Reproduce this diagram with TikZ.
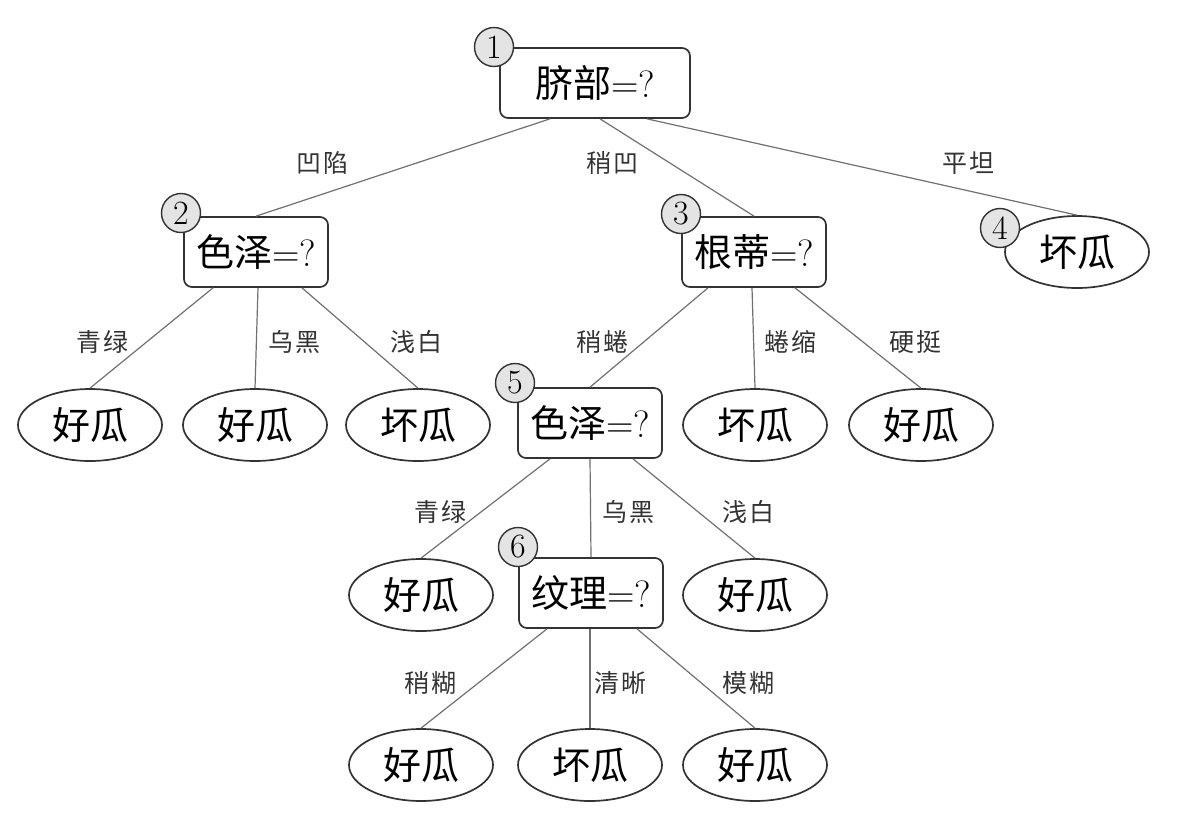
\documentclass[tikz,border=0pt]{standalone}
\usepackage{fontspec}
\newfontfamily\cjk{Noto Sans CJK SC}
\newfontfamily\cjklab[LetterSpace=8]{Noto Sans CJK SC}
\usetikzlibrary{positioning, calc, shapes.geometric}
\definecolor{tline}{HTML}{707070}
\definecolor{tink}{HTML}{333333}
\definecolor{tbadge}{HTML}{E4E4E4}

\begin{document}
\begin{tikzpicture}[x=0.5pt, y=-0.5pt,
  test/.style={draw=tink, line width=0.85pt, rounded corners=4pt, inner sep=0pt,
    minimum width=72pt, minimum height=35pt, font=\fontsize{19pt}{21pt}\selectfont},
  leaf/.style={draw=tink, line width=0.85pt, ellipse, inner sep=0pt,
    minimum width=72pt, minimum height=36pt, font=\fontsize{19pt}{21pt}\cjk},
  badge/.style={draw=tink, line width=0.7pt, fill=tbadge, circle, inner sep=0pt,
    minimum size=19.5pt, font=\fontsize{17pt}{18pt}\selectfont},
  branch/.style={draw=tline, line width=0.6pt},
  elab/.style={font=\fontsize{12.5pt}{14pt}\cjklab, text=tink, inner sep=1pt}]

  \useasboundingbox (0,0) rectangle (1183,825);

  %% Test nodes
  \node[test, minimum width=95pt] (n1) at (595,83) {{\cjk 脐部}=?};
  \node[test] (n2) at (256,252) {{\cjk 色泽}=?};
  \node[test] (n3) at (754,252) {{\cjk 根蒂}=?};
  \node[test] (n5) at (590,423) {{\cjk 色泽}=?};
  \node[test] (n6) at (591,593) {{\cjk 纹理}=?};

  %% Leaves
  \foreach \name/\x/\y/\txt in {n4/1077/252/坏瓜,
      l21/90/425/好瓜, l22/255/425/好瓜, l23/418/425/坏瓜,
      l32/755/425/坏瓜, l33/921/425/好瓜,
      l51/421/595/好瓜, l53/755/595/好瓜,
      l61/421/765/好瓜, l62/590/765/坏瓜, l63/755/765/好瓜}{
    \node[leaf] (\name) at (\x,\y) {\txt};
  }

  %% Branches
  \foreach \from/\dx/\to in {n1/-45/n2, n1/5/n3, n1/52/n4,
      n2/-43/l21, n2/2/l22, n2/46/l23,
      n3/-46/n5, n3/-2/l32, n3/41/l33,
      n5/-40/l51, n5/0/n6, n5/43/l53,
      n6/-44/l61, n6/-1/l62, n6/46/l63}{
    \draw[branch] ($(\from.south)+(\dx,0)$) -- (\to.north);
  }

  %% Branch labels
  \foreach \x/\y/\txt in {322/163/凹陷, 612/163/稍凹, 968/163/平坦,
      102/342/青绿, 294/342/乌黑, 416/342/浅白,
      602/342/稍蜷, 790/342/蜷缩, 915/342/硬挺,
      440/512/青绿, 628/512/乌黑, 748/512/浅白,
      430/683/稍糊, 620/683/清晰, 748/683/模糊}{
    \node[elab] at (\x,\y) {\txt};
  }

  %% Step badges
  \node[badge] (b1) at (494,47) {1};
  \node[badge] (b2) at (181,213) {2};
  \node[badge] (b3) at (681,214) {3};
  \node[badge] (b4) at (1000,228) {4};
  \node[badge] (b5) at (515,383) {5};
  \node[badge] (b6) at (518,547) {6};

\end{tikzpicture}
\end{document}
